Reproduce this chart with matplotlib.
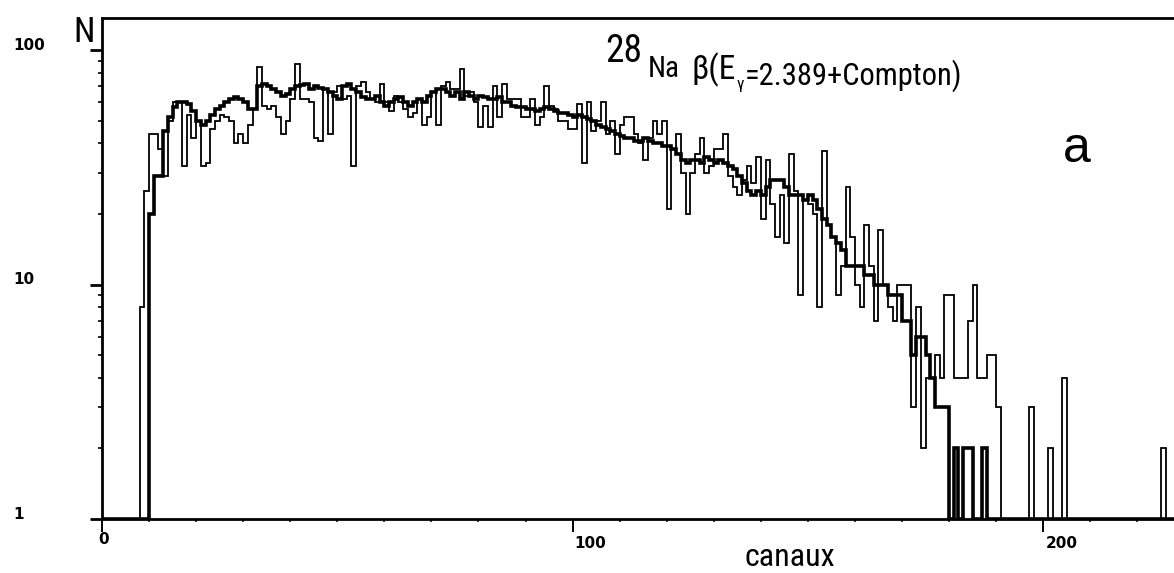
import numpy as np
import matplotlib
matplotlib.use("Agg")
import matplotlib.pyplot as plt
from matplotlib.ticker import MultipleLocator, LogLocator, NullFormatter

# counts per channel (0..227); 0 = empty channel
SIM = [
    0, 0, 0, 0, 0, 0, 0, 0, 0, 0,
    20, 29, 29, 45, 52, 57, 60, 60, 59, 55,
    50, 48, 50, 53, 56, 58, 60, 62, 63, 62,
    60, 56, 56, 70, 72, 70, 68, 66, 64, 65,
    68, 70, 71, 72, 68, 70, 69, 68, 66, 64,
    62, 70, 72, 68, 66, 63, 62, 62, 64, 60,
    58, 60, 62, 63, 60, 58, 60, 62, 60, 64,
    66, 68, 68, 66, 64, 66, 62, 66, 64, 62,
    64, 63, 62, 62, 63, 60, 60, 58, 57, 57,
    56, 56, 55, 56, 57, 56, 55, 54, 54, 53,
    52, 53, 52, 51, 50, 48, 47, 46, 45, 44,
    43, 42, 42, 41, 41, 42, 41, 40, 40, 39,
    39, 38, 36, 34, 33, 34, 34, 33, 35, 34,
    33, 34, 33, 32, 31, 29, 27, 25, 24, 25,
    24, 26, 28, 28, 28, 26, 24, 24, 24, 23,
    24, 23, 21, 19, 18, 16, 15, 14, 12, 12,
    12, 12, 11, 11, 10, 10, 10, 9, 9, 9,
    7, 7, 5, 6, 6, 5, 4, 3, 3, 3,
    0, 2, 0, 2, 2, 0, 0, 2, 0, 0,
    0, 0, 0, 0, 0, 0, 0, 0, 0, 0,
    0, 0, 0, 0, 0, 0, 0, 0, 0, 0,
    0, 0, 0, 0, 0, 0, 0, 0, 0, 0,
    0, 0, 0, 0, 0, 0, 0, 0,
]

DATA = [
    0, 0, 0, 0, 0, 0, 0, 0, 8, 25,
    44, 44, 38, 29, 50, 60, 60, 32, 53, 42,
    50, 32, 33, 46, 50, 53, 52, 50, 40, 44,
    40, 48, 56, 85, 58, 56, 58, 52, 44, 50,
    62, 87, 62, 62, 60, 42, 41, 68, 44, 66,
    70, 62, 64, 32, 70, 73, 66, 62, 60, 72,
    60, 55, 64, 60, 56, 52, 54, 62, 48, 52,
    66, 48, 70, 73, 68, 68, 83, 64, 66, 60,
    47, 58, 47, 70, 52, 72, 62, 62, 62, 52,
    52, 62, 48, 52, 70, 58, 56, 50, 50, 46,
    46, 59, 33, 60, 45, 50, 60, 44, 50, 36,
    48, 52, 52, 44, 40, 34, 42, 50, 44, 50,
    21, 38, 44, 30, 20, 30, 36, 42, 30, 32,
    38, 38, 44, 29, 26, 24, 28, 32, 27, 35,
    19, 34, 22, 16, 24, 15, 36, 25, 9, 23,
    22, 20, 8, 37, 18, 16, 9, 12, 26, 16,
    10, 8, 18, 12, 7, 17, 10, 8, 7, 10,
    10, 10, 3, 8, 2, 4, 4, 5, 4, 9,
    9, 4, 4, 4, 7, 10, 4, 4, 5, 5,
    3, 0, 0, 0, 0, 0, 0, 3, 0, 0,
    0, 2, 0, 0, 4, 0, 0, 0, 0, 0,
    0, 0, 0, 0, 0, 0, 0, 0, 0, 0,
    0, 0, 0, 0, 0, 2, 0, 0,
]

X_TICKS = [0, 100, 200]
X_TICK_LABELS = ["0", "100", "200"]
Y_TICKS = [1, 10, 100]
Y_TICK_LABELS = ["1", "10", "100"]

NARROW = ["Roboto Condensed", "DejaVu Sans"]
W, H = 1174, 573

fig = plt.figure(figsize=(W / 100, H / 100), dpi=100)
ax = fig.add_axes([102 / W, 1 - 519 / H, 1 - 102 / W, (519 - 18) / H])

edges = np.arange(len(SIM) + 1)
ax.stairs(np.clip(SIM, 1, None), edges, baseline=None, color="black", lw=2.6)
ax.stairs(np.clip(DATA, 1, None), edges, baseline=None, color="black", lw=1.3)

ax.set_yscale("log")
ax.set_xlim(0, 227.8)
ax.set_ylim(1, 137)

for side in ("left", "bottom", "top"):
    ax.spines[side].set_linewidth(2)
ax.spines["right"].set_visible(False)

ax.set_xticks(X_TICKS)
ax.xaxis.set_minor_locator(MultipleLocator(10))
ax.tick_params(axis="x", which="major", direction="out", length=9, width=1.4,
               labelbottom=False)
ax.tick_params(axis="x", which="minor", direction="out", length=2.5, width=1.1)
ax.set_yticks(Y_TICKS)
ax.yaxis.set_minor_locator(LogLocator(base=10, subs=np.arange(2, 10)))
ax.yaxis.set_minor_formatter(NullFormatter())
ax.tick_params(axis="y", which="major", direction="out", length=9, width=2,
               labelleft=False)
ax.tick_params(axis="y", which="minor", direction="out", length=3, width=1.2)

# tick labels: y labels flush at the far left, x labels hanging below
for v, lab in zip(Y_TICKS, Y_TICK_LABELS):
    ax.annotate(lab, (13 / W, v), xycoords=("figure fraction", "data"),
                xytext=(0, 3.5), textcoords="offset points",
                ha="left", va="center", fontsize=11, fontweight="bold")
for v, lab in zip(X_TICKS, X_TICK_LABELS):
    ha = "center" if v == 0 else "left"
    dy = -9 if v == 0 else -12.5
    ax.annotate(lab, (v, 0), xycoords=("data", "axes fraction"),
                xytext=(1.5 if v else 1, dy), textcoords="offset points",
                ha=ha, va="top", fontsize=11, fontweight="bold")


def put(text, x, y, size, **kw):
    return fig.text(x / W, 1 - y / H, text, fontsize=size, ha="left",
                    va="baseline", family=NARROW, **kw)


put("N", 73, 42, 25)
put("canaux", 744, 566, 23)
fig.text(1063 / W, 1 - 162 / H, "a", fontsize=36, ha="left", va="baseline",
         family=["Liberation Sans", "DejaVu Sans"])

# title pieces laid out left to right
renderer = fig.canvas.get_renderer()
x = 605
for text, size, base, gap in [("28", 27, 62, 6), ("Na", 21, 77, 12),
                              ("β(E", 24, 79, 0), ("γ", 12, 89, 1),
                              ("=2.389+Compton)", 22, 85, 0)]:
    t = put(text, x, base, size)
    bb = t.get_window_extent(renderer)
    x = bb.x1 + gap

fig.savefig("out.png", dpi=100)
